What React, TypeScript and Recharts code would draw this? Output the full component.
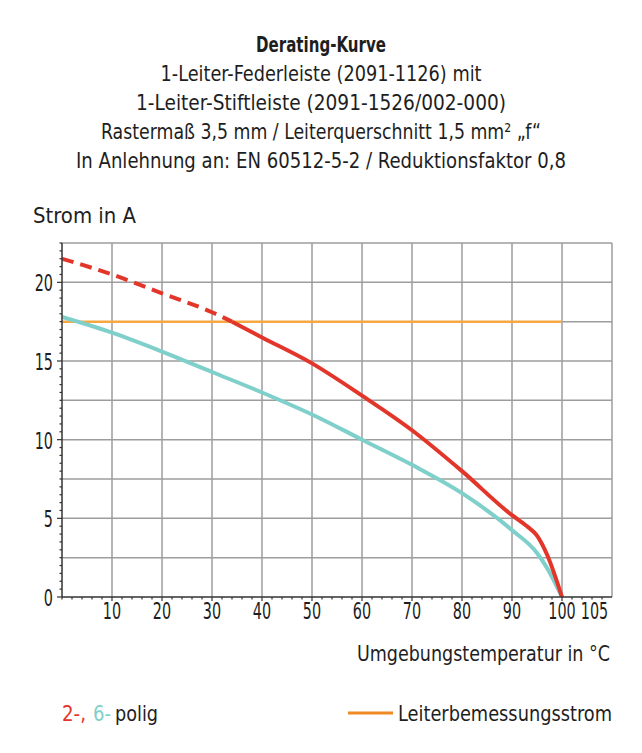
import { CartesianGrid, Line, LineChart, XAxis, YAxis } from "recharts";

const FONT = "'DejaVu Sans Condensed', 'Liberation Sans Narrow', Roboto, sans-serif";

const titleLines = [
	"1-Leiter-Federleiste (2091-1126) mit",
	"1-Leiter-Stiftleiste (2091-1526/002-000)",
	"Rastermaß 3,5 mm / Leiterquerschnitt 1,5 mm² „f“",
	"In Anlehnung an: EN 60512-5-2 / Reduktionsfaktor 0,8",
];
// rendered widths of the title lines, to mimic the condensed face
const titleWidths = [321, 370, 440, 490];

// 2-polig, dashed part (above rated current)
const redDashedTemp = [0, 10, 20, 30, 34];
const redDashedCurrent = [21.5, 20.5, 19.3, 18.1, 17.5];

// 2-polig, solid part
const redTemp = [34, 40, 50, 60, 70, 80, 90, 93, 95, 97, 100];
const redCurrent = [17.5, 16.5, 14.85, 12.8, 10.6, 8.0, 5.2, 4.5, 3.9, 2.7, 0];

// 6-polig
const cyanTemp = [0, 10, 20, 30, 40, 50, 60, 70, 80, 90, 95, 97, 100];
const cyanCurrent = [17.8, 16.8, 15.6, 14.3, 13.0, 11.6, 10.0, 8.4, 6.6, 4.25, 2.8, 1.85, 0];

// Leiterbemessungsstrom
const ratedTemp = [0, 100];
const ratedCurrent = [17.5, 17.5];

// the last grid step (100..110) is labelled "105" a bit left of the border
const xGrid = [10, 20, 30, 40, 50, 60, 70, 80, 90, 100, 110];
const xLabelTicks = [10, 20, 30, 40, 50, 60, 70, 80, 90, 100, 106.5];
const xLabels = ["10", "20", "30", "40", "50", "60", "70", "80", "90", "100", "105"];
const yMajor = [0, 5, 10, 15, 20];
const yGrid = [2.5, 5, 7.5, 10, 12.5, 15, 17.5, 20, 22.5];

const xMinor = Array.from({ length: 55 }, (_, i) => i * 2);
const xTicks = [...xMinor, 106.5];
const yTicks = Array.from({ length: 46 }, (_, i) => i * 0.5);

const toPoints = (xs: number[], ys: number[], key: string) =>
	xs.map((t, i) => ({ t, [key]: ys[i] }));

const RED = "#e3362a";
const CYAN = "#7fcfca";
const ORANGE = "#f5a742";
const LEGEND_ORANGE = "#f08a24";
const TEXT = "#1e1e1e";
const SQUEEZE = 0.68;

function XTick(props: any) {
	const { x, y, payload } = props;
	const v = payload.value as number;
	const idx = xLabelTicks.indexOf(v);
	const isGrid = xGrid.includes(v);
	return (
		<g>
			{(isGrid || idx < 0) && (
				<line x1={x} x2={x} y1={y} y2={y + (isGrid ? 4 : 2.5)} stroke="#333" strokeWidth={1.2} />
			)}
			{idx >= 0 && (
				<text
					transform={`translate(${x} ${y + 22}) scale(${SQUEEZE} 1)`}
					textAnchor="middle"
					fontSize={23.5}
					fill={TEXT}
					fontFamily={FONT}
				>
					{xLabels[idx]}
				</text>
			)}
		</g>
	);
}

function YTick(props: any) {
	const { x, y, payload } = props;
	const v = payload.value as number;
	const major = yMajor.includes(v);
	return (
		<g>
			<line x1={x - (major ? 5 : 2.5)} x2={x} y1={y} y2={y} stroke="#333" strokeWidth={1.2} />
			{major && (
				<text
					transform={`translate(${x - 9} ${y + 9}) scale(${SQUEEZE} 1)`}
					textAnchor="end"
					fontSize={23.5}
					fill={TEXT}
					fontFamily={FONT}
				>
					{v}
				</text>
			)}
		</g>
	);
}

export default function App() {
	return (
		<div style={{ position: "relative", width: 642, height: 753, margin: -8, background: "#fff" }}>
			<div style={{ position: "absolute", top: 0, left: 0 }}>
				<LineChart width={642} height={753} margin={{ top: 243, right: 30, left: 22, bottom: 126 }}>
					<CartesianGrid
						stroke="#9d9d9d"
						strokeWidth={1.5}
						horizontalValues={yGrid}
						verticalValues={xGrid}
					/>
					<XAxis
						type="number"
						dataKey="t"
						domain={[0, 110]}
						ticks={xTicks}
						interval={0}
						height={30}
						tickSize={0}
						tickMargin={0}
						tick={(p: any) => <XTick {...p} />}
						axisLine={{ stroke: "#333", strokeWidth: 1.5 }}
						allowDataOverflow
					/>
					<YAxis
						type="number"
						domain={[0, 22.5]}
						ticks={yTicks}
						interval={0}
						width={40}
						tickSize={0}
						tickMargin={0}
						tick={(p: any) => <YTick {...p} />}
						axisLine={{ stroke: "#333", strokeWidth: 1.5 }}
						allowDataOverflow
					/>
					<Line
						data={toPoints(ratedTemp, ratedCurrent, "rated")}
						dataKey="rated"
						stroke={ORANGE}
						strokeWidth={2.5}
						dot={false}
						isAnimationActive={false}
					/>
					<Line
						data={toPoints(cyanTemp, cyanCurrent, "six")}
						dataKey="six"
						type="monotone"
						stroke={CYAN}
						strokeWidth={4}
						dot={false}
						isAnimationActive={false}
					/>
					<Line
						data={toPoints(redDashedTemp, redDashedCurrent, "twoDashed")}
						dataKey="twoDashed"
						type="monotone"
						stroke={RED}
						strokeWidth={4}
						strokeDasharray="12 7"
						dot={false}
						isAnimationActive={false}
					/>
					<Line
						data={toPoints(redTemp, redCurrent, "two")}
						dataKey="two"
						type="monotone"
						stroke={RED}
						strokeWidth={4}
						dot={false}
						isAnimationActive={false}
					/>
				</LineChart>
			</div>
			<svg
				width={642}
				height={753}
				style={{ position: "absolute", top: 0, left: 0, pointerEvents: "none" }}
				fontFamily={FONT}
				fill={TEXT}
			>
				<text x={256} y={51.5} fontSize={21} fontWeight="bold" textLength={130} lengthAdjust="spacingAndGlyphs">
					Derating-Kurve
				</text>
				{titleLines.map((l, i) => (
					<text
						key={l}
						x={321 - titleWidths[i] / 2}
						y={80.5 + i * 29}
						fontSize={21}
						textLength={titleWidths[i]}
						lengthAdjust="spacingAndGlyphs"
					>
						{l}
					</text>
				))}
				<text x={33} y={223} fontSize={22} textLength={103} lengthAdjust="spacingAndGlyphs">
					Strom in A
				</text>
				<text x={357} y={661} fontSize={22} textLength={253} lengthAdjust="spacingAndGlyphs">
					Umgebungstemperatur in °C
				</text>
				<text x={62} y={720.5} fontSize={22} fill={RED} textLength={24} lengthAdjust="spacingAndGlyphs">
					2-,
				</text>
				<text x={93} y={720.5} fontSize={22} fill={CYAN} textLength={18} lengthAdjust="spacingAndGlyphs">
					6-
				</text>
				<text x={115} y={720.5} fontSize={22} textLength={43} lengthAdjust="spacingAndGlyphs">
					polig
				</text>
				<line x1={348} x2={393} y1={713} y2={713} stroke={LEGEND_ORANGE} strokeWidth={3} />
				<text x={398} y={720.5} fontSize={22} textLength={214} lengthAdjust="spacingAndGlyphs">
					Leiterbemessungsstrom
				</text>
			</svg>
		</div>
	);
}
